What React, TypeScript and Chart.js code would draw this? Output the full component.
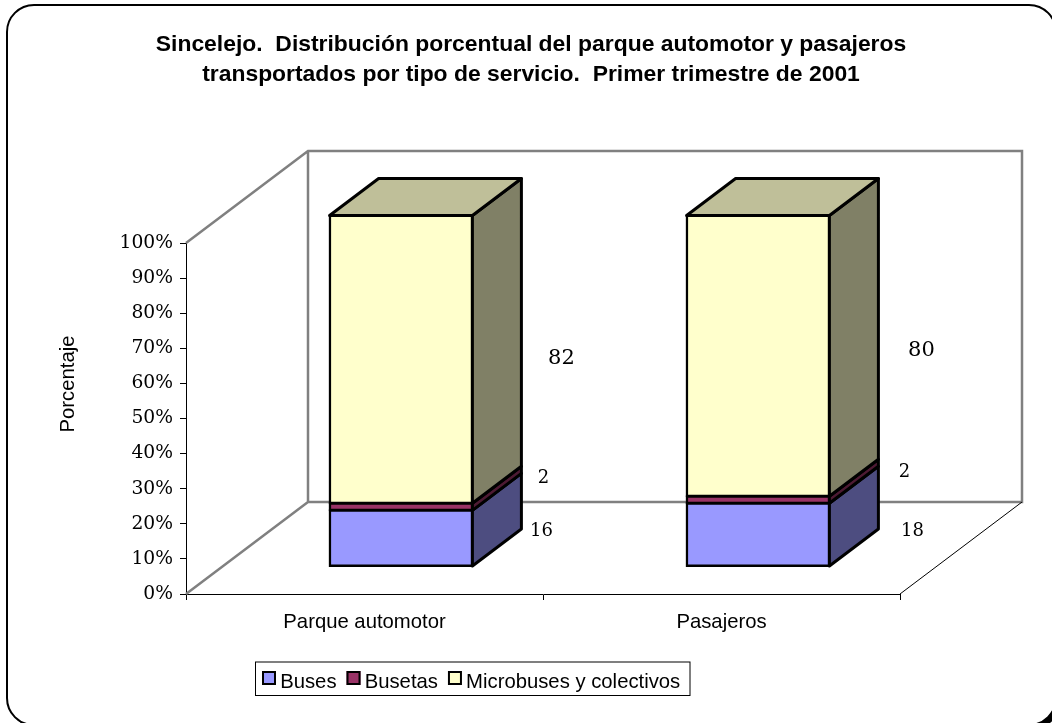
import React, { useEffect, useRef } from "react";
import { Chart, registerables } from "chart.js";

Chart.register(...registerables);

const categories = ["Parque automotor", "Pasajeros"];
const buses = [16, 18];
const busetas = [2, 2];
const microbuses = [82, 80];
const seriesNames = ["Buses", "Busetas", "Microbuses y colectivos"];
const frontColors = ["#9999FF", "#993366", "#FFFFCC"];
const sideColors = ["#4D4D80", "#4D1A33", "#808066"];
const topColor = "#BFBF99";
const titleLines = [
  "Sincelejo.  Distribución porcentual del parque automotor y pasajeros",
  "transportados por tipo de servicio.  Primer trimestre de 2001",
];
const yAxisTitle = "Porcentaje";

// 3D projection of the plot box
const WALL_DX = 122;
const WALL_DY = 92;
const BAR_DX = 49;
const BAR_DY = 37;
const SHIFT_X = (WALL_DX - BAR_DX) / 2;
const SHIFT_Y = (WALL_DY - BAR_DY) / 2;
const SERIF = "'DejaVu Serif', serif";
const SANS = "'Liberation Sans', Arial, sans-serif";
const SANS_SIZE = 20.3;

// label placement relative to the back-right edge of each bar segment: [dx, dy, font size]
const labelPlacement = [
  [[20, -7, 18], [34, -3, 18]],
  [[22, -29, 18], [26, -27, 18]],
  [[40, -1, 21], [43, -5, 21]],
];

const chart3d = {
  id: "chart3d",
  beforeDraw(chart: any) {
    const { ctx } = chart;
    ctx.save();
    ctx.fillStyle = "#FFFFFF";
    ctx.fillRect(0, 0, chart.width, chart.height);
    ctx.beginPath();
    ctx.roundRect(11, 9, 1049, 720, 27);
    ctx.fillStyle = "#000000";
    ctx.fill();
    ctx.beginPath();
    ctx.roundRect(7, 5, 1049, 720, 27);
    ctx.fillStyle = "#FFFFFF";
    ctx.fill();
    ctx.lineWidth = 2;
    ctx.strokeStyle = "#000000";
    ctx.stroke();
    ctx.restore();
  },
  afterLayout(chart: any) {
    const { titleBlock, legend } = chart;
    titleBlock.left = 10;
    titleBlock.right = 1052;
    legend.left = 252;
    legend.right = 700;
    legend.top = 662;
    legend.bottom = 696;
    legend.height = 34;
    legend.adjustHitBoxes();
  },
  beforeDatasetsDraw(chart: any) {
    const { ctx, chartArea: a } = chart;
    ctx.save();
    ctx.strokeStyle = "#808080";
    ctx.lineWidth = 2.5;
    ctx.lineJoin = "miter";
    ctx.beginPath();
    ctx.moveTo(a.left, a.top);
    ctx.lineTo(a.left + WALL_DX, a.top - WALL_DY);
    ctx.lineTo(a.right + WALL_DX, a.top - WALL_DY);
    ctx.lineTo(a.right + WALL_DX, a.bottom - WALL_DY);
    ctx.lineTo(a.left + WALL_DX, a.bottom - WALL_DY);
    ctx.lineTo(a.left + WALL_DX, a.top - WALL_DY);
    ctx.moveTo(a.left + WALL_DX, a.bottom - WALL_DY);
    ctx.lineTo(a.left, a.bottom);
    ctx.stroke();
    ctx.strokeStyle = "#000000";
    ctx.lineWidth = 1;
    ctx.beginPath();
    ctx.moveTo(a.right, a.bottom);
    ctx.lineTo(a.right + WALL_DX, a.bottom - WALL_DY);
    ctx.stroke();
    ctx.restore();

    ctx.save();
    ctx.translate(SHIFT_X, -SHIFT_Y);
  },
  afterDatasetsDraw(chart: any) {
    const { ctx } = chart;
    ctx.lineWidth = 3;
    ctx.strokeStyle = "#000000";
    ctx.lineJoin = "round";
    const face = (pts: number[][], fill: string) => {
      ctx.beginPath();
      pts.forEach((p, i) => (i ? ctx.lineTo(p[0], p[1]) : ctx.moveTo(p[0], p[1])));
      ctx.closePath();
      ctx.fillStyle = fill;
      ctx.fill();
      ctx.stroke();
    };
    chart.data.datasets.forEach((_: any, d: number) => {
      chart.getDatasetMeta(d).data.forEach((bar: any) => {
        const left = bar.x - bar.width / 2;
        const right = bar.x + bar.width / 2;
        face(
          [[right, bar.y], [right + BAR_DX, bar.y - BAR_DY], [right + BAR_DX, bar.base - BAR_DY], [right, bar.base]],
          sideColors[d]
        );
        if (d === chart.data.datasets.length - 1) {
          face(
            [[left, bar.y], [left + BAR_DX, bar.y - BAR_DY], [right + BAR_DX, bar.y - BAR_DY], [right, bar.y]],
            topColor
          );
        }
      });
    });
    ctx.restore();

    // value labels
    ctx.save();
    ctx.fillStyle = "#000000";
    ctx.textAlign = "center";
    ctx.textBaseline = "middle";
    chart.data.datasets.forEach((ds: any, d: number) => {
      chart.getDatasetMeta(d).data.forEach((bar: any, i: number) => {
        const [dx, dy, size] = labelPlacement[d][i];
        const x = bar.x + bar.width / 2 + SHIFT_X + BAR_DX + dx;
        const y = (bar.y + bar.base) / 2 - SHIFT_Y + dy;
        ctx.font = `${size}px ${SERIF}`;
        ctx.fillText(String(ds.data[i]), x, y);
      });
    });
    ctx.restore();
  },
  afterDraw(chart: any) {
    const { ctx, legend } = chart;
    ctx.save();
    // legend frame
    ctx.strokeStyle = "#000000";
    ctx.lineWidth = 1;
    ctx.strokeRect(255.5, 662, 434.5, 33.5);
    // legend swatches
    ctx.lineWidth = 2;
    legend.legendHitBoxes.forEach((h: any, i: number) => {
      const cy = 678;
      ctx.fillStyle = frontColors[i];
      ctx.fillRect(h.left, cy - 7, 14, 14);
      ctx.strokeRect(h.left + 1, cy - 6, 12, 12);
    });
    // axis title
    ctx.translate(68, 384);
    ctx.rotate(-Math.PI / 2);
    ctx.fillStyle = "#000000";
    ctx.font = `${SANS_SIZE}px ${SANS}`;
    ctx.textAlign = "center";
    ctx.textBaseline = "middle";
    ctx.fillText(yAxisTitle, 0, 0);
    ctx.restore();
  },
};

export default function App() {
  const ref = useRef<HTMLCanvasElement>(null);
  useEffect(() => {
    document.body.style.margin = "0";
    const values = [buses, busetas, microbuses];
    const chart = new Chart(ref.current as HTMLCanvasElement, {
      type: "bar",
      data: {
        labels: categories,
        datasets: values.map((data, i) => ({
          label: seriesNames[i],
          data,
          backgroundColor: frontColors[i],
          borderColor: "#000000",
          borderWidth: 2.5,
          borderSkipped: false,
          inflateAmount: 1,
          categoryPercentage: 1,
          barPercentage: 0.4,
          clip: false,
        })),
      } as any,
      options: {
        responsive: false,
        animation: false,
        events: [],
        layout: { padding: { left: 0, right: 152, top: 0, bottom: 38.7 } },
        font: { family: SANS },
        plugins: {
          title: {
            display: true,
            text: titleLines,
            color: "#000000",
            font: { family: SANS, size: 22.9, weight: "bold", lineHeight: 30 / 22.9 },
            padding: { top: 30, bottom: 153 },
          },
          legend: {
            display: true,
            position: "bottom",
            align: "start",
            labels: {
              font: { family: SANS, size: SANS_SIZE },
              color: "#000000",
              boxWidth: 8,
              boxHeight: 8,
              padding: 10,
              generateLabels: (c: any) =>
                Chart.defaults.plugins.legend.labels
                  .generateLabels(c)
                  .map((item: any) => ({ ...item, fillStyle: "transparent", lineWidth: 0 })),
            },
          },
          tooltip: { enabled: false },
        },
        scales: {
          x: {
            stacked: true,
            afterFit: (s: any) => {
              s.height = 50;
            },
            border: { display: true, color: "#000000", width: 1 },
            grid: { display: true, offset: true, drawOnChartArea: false, drawTicks: true, tickLength: 6, color: "#000000" },
            ticks: { color: "#000000", font: { family: SANS, size: SANS_SIZE }, padding: 10, maxRotation: 0 },
          },
          y: {
            stacked: true,
            min: 0,
            max: 100,
            afterFit: (s: any) => {
              s.width = 186;
            },
            border: { display: true, color: "#000000", width: 1 },
            grid: { display: true, drawOnChartArea: false, drawTicks: true, tickLength: 6, color: "#000000" },
            ticks: {
              stepSize: 10,
              color: "#000000",
              font: { family: SERIF, size: 18.7 },
              padding: 7,
              callback: (v: any) => `${v}%`,
            },
          },
        },
      } as any,
      plugins: [chart3d as any],
    });
    return () => chart.destroy();
  }, []);
  return <canvas ref={ref} width={1052} height={723} style={{ display: "block", width: 1052, height: 723 }} />;
}
